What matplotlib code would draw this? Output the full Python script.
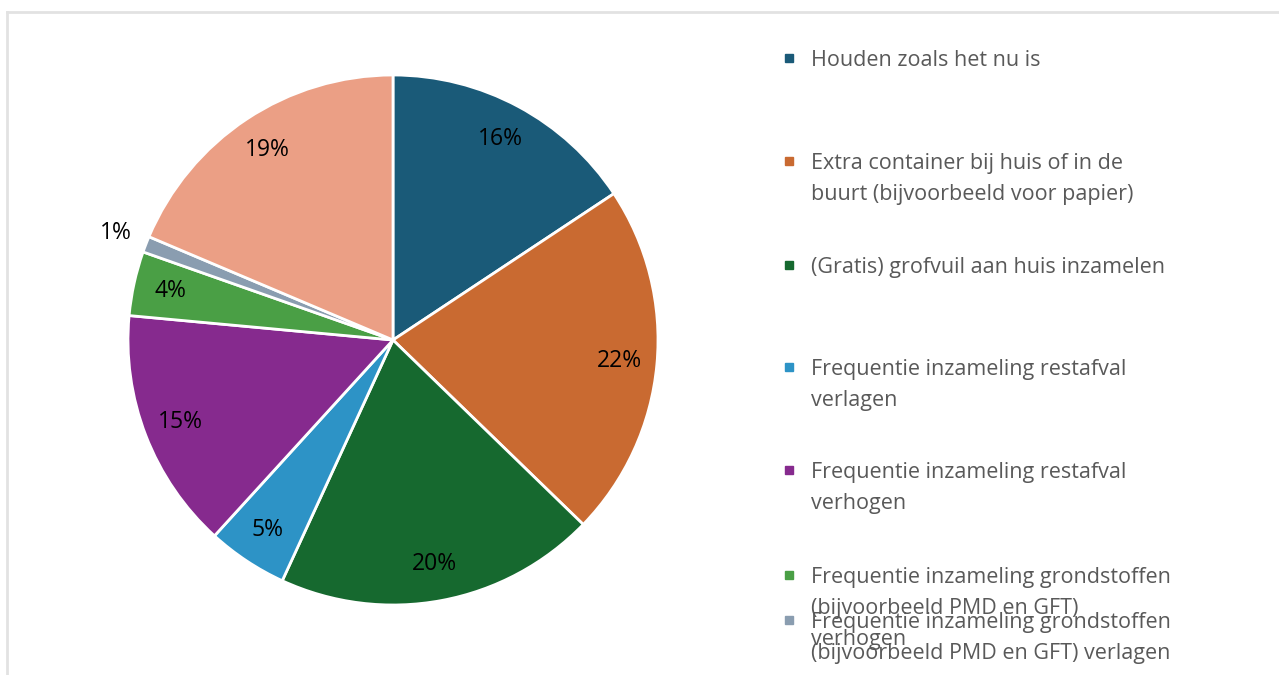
import matplotlib.pyplot as plt
from matplotlib.patches import Rectangle
from matplotlib.lines import Line2D

# Data
categories = [
    'Houden zoals het nu is',
    'Extra container bij huis of in de\nbuurt (bijvoorbeeld voor papier)',
    '(Gratis) grofvuil aan huis inzamelen',
    'Frequentie inzameling restafval\nverlagen',
    'Frequentie inzameling restafval\nverhogen',
    'Frequentie inzameling grondstoffen\n(bijvoorbeeld PMD en GFT)\nverhogen',
    'Frequentie inzameling grondstoffen\n(bijvoorbeeld PMD en GFT) verlagen',
    'Anders',
]
percentages = [16, 22, 20, 5, 15, 4, 1, 19]
colors = ['#1a5a78', '#c96a31', '#16692f', '#2d93c6', '#862a8e',
          '#4a9f45', '#8a9db0', '#eb9f85']

# legend rows (centre of first line, pixels from top); the last entry falls off the picture
legend_y = [58, 161, 265, 367, 470, 575, 620, 725]

W, H = 1279, 675
fig = plt.figure(figsize=(W / 100, H / 100), dpi=100)

# light frame
fig.add_artist(Line2D([6.5 / W, 6.5 / W], [0, 1 - 12 / H], transform=fig.transFigure,
                      color='#e2e2e2', lw=2))
fig.add_artist(Line2D([6.5 / W, 1], [1 - 12 / H, 1 - 12 / H], transform=fig.transFigure,
                      color='#e2e2e2', lw=2))

cx, cy, r = 393, 340, 265
ax = fig.add_axes([(cx - r) / W, (H - cy - r) / H, 2 * r / W, 2 * r / H])
wedges, texts, autotexts = ax.pie(
    percentages, colors=colors, startangle=90, counterclock=False,
    autopct=lambda p: '', pctdistance=0.86,
    wedgeprops=dict(edgecolor='white', linewidth=2))
ax.set_xlim(-1, 1)
ax.set_ylim(-1, 1)
ax.set_aspect('equal')
ax.axis('off')

for t, w, p in zip(autotexts, wedges, percentages):
    t.set_text(f'{p}%')
    t.set_fontsize(16.5)
    t.set_color('black')
    t.set_family('Open Sans')
    if p == 1:
        x, y = t.get_position()
        t.set_position((x * 1.12 / 0.86, y * 1.12 / 0.86))

# legend drawn as text rows
for lab, col, y in zip(categories, colors, legend_y):
    if y > H:
        continue
    fig.add_artist(Rectangle((785 / W, 1 - (y + 4) / H), 8 / W, 8 / H,
                             transform=fig.transFigure, color=col))
    fig.text(811 / W, 1 - (y - 8) / H, lab, fontsize=15.5, color='#595959',
             family='Open Sans', va='top', ha='left', linespacing=1.62)

fig.savefig('out.png', dpi=100)
